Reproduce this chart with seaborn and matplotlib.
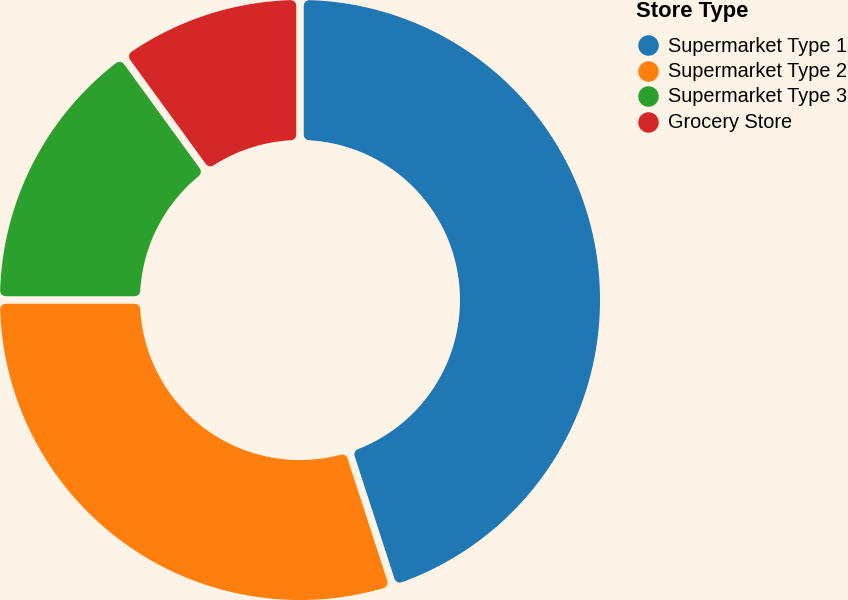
import numpy as np
import matplotlib
matplotlib.use("Agg")
import matplotlib.pyplot as plt
from matplotlib.patches import Polygon
import seaborn as sns

categories = ["Supermarket Type 1", "Supermarket Type 2", "Supermarket Type 3", "Grocery Store"]
values = [45, 30, 15, 10]
legend_title = "Store Type"

sns.set_theme(style="white")
plt.rcParams['font.family'] = ['Liberation Sans', 'DejaVu Sans']

BG = "#fdf4e7"
colors = sns.color_palette("tab10", 4)

W, H = 848, 600
fig = plt.figure(figsize=(W / 100, H / 100), dpi=100, facecolor=BG)
ax = fig.add_axes([0, 0, 1, 1])
ax.set_facecolor(BG)

CX, CY = 300, 300
R_OUT, R_IN = 300, 160
GAP = 7.5       # px, constant-width gap between slices
CR = 5.5        # px corner radius

wedges, _ = ax.pie(values, colors=colors, startangle=90, counterclock=False,
                   radius=R_OUT, center=(CX, CY), frame=True)

px_to_pt = 72 / 100
d = GAP / 2 + CR
ro, ri = R_OUT - CR, R_IN + CR
for w, c in zip(wedges, colors):
    t1, t2 = np.radians(w.theta1), np.radians(w.theta2)
    a_o, a_i = np.arcsin(d / ro), np.arcsin(d / ri)
    th_o = np.linspace(t1 + a_o, t2 - a_o, 200)
    th_i = np.linspace(t2 - a_i, t1 + a_i, 200)
    xs = np.concatenate([CX + ro * np.cos(th_o), CX + ri * np.cos(th_i)])
    ys = np.concatenate([CY + ro * np.sin(th_o), CY + ri * np.sin(th_i)])
    poly = Polygon(np.column_stack([xs, ys]), closed=True, facecolor=c, edgecolor=c,
                   linewidth=2 * CR * px_to_pt, joinstyle="round", antialiased=True)
    ax.add_patch(poly)
    w.set_visible(False)

ax.set_xlim(0, W)
ax.set_ylim(0, H)
ax.set_aspect("equal")
ax.axis("off")

# legend (pixel coordinates, y measured from top)
ax.text(636, H - 17, legend_title, fontsize=15.8, fontweight="bold", color="black",
        ha="left", va="baseline")
y0, step = 45, 25.5
for i, (lab, c) in enumerate(zip(categories, colors)):
    yc = y0 + i * step
    ax.scatter([648], [H - yc], s=(20.5 * px_to_pt) ** 2, color=c, linewidths=0, zorder=5)
    ax.text(668, H - (yc + 6.5), lab, fontsize=14.3, color="black", ha="left", va="baseline")

fig.savefig("out.png", dpi=100, facecolor=BG)
